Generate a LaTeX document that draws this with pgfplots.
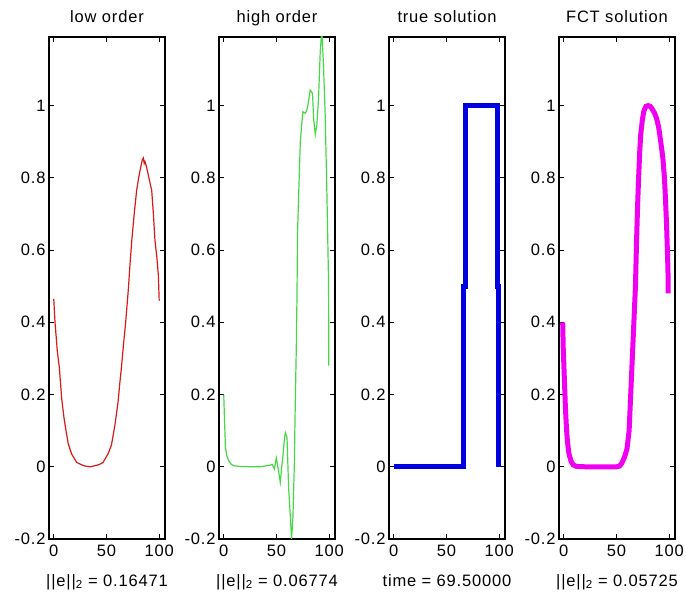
\documentclass[border=0pt]{standalone}
\usepackage{fontspec}
\setmainfont{Liberation Sans}[LetterSpace=5]
\usepackage{pgfplots}
\pgfplotsset{compat=1.18}

\definecolor{lowred}{RGB}{215,25,25}
\definecolor{highgreen}{RGB}{70,215,70}
\definecolor{trueblue}{RGB}{0,0,225}
\definecolor{fctmag}{RGB}{240,0,240}

\pgfplotsset{
  panel/.style={
    scale only axis, width=116pt, height=502pt,
    anchor=south west,
    xmin=-4.5, xmax=105.5, ymin=-0.2, ymax=1.19,
    xtick={0,50,100}, ytick={-0.2,0,0.2,0.4,0.6,0.8,1},
    tick align=inside, major tick length=5pt,
    axis line style={line width=1.2pt},
    every tick/.style={black, line width=1pt},
    tick label style={font=\fontsize{16.5}{19}\selectfont},
    xticklabel style={yshift=-2pt},
    /pgf/number format/assume math mode=true,
    title style={font=\fontsize{16.5}{19}\selectfont, at={(0.5,1)}, anchor=base, yshift=8pt},
    xlabel style={font=\fontsize{16.5}{19}\selectfont, at={(0.5,0)}, anchor=base, yshift=-47pt},
  }
}

\begin{document}
\begin{tikzpicture}
% low order
\begin{axis}[panel, at={(0pt,0pt)}, title={low order},
  xlabel={||e||\textsubscript{2} = 0.16471}]
\addplot[color=lowred, line width=1.2pt] coordinates {
(0,0.465)(1.2,0.40)(3.4,0.32)(5.3,0.275)(7.5,0.19)(9.7,0.136)(11.6,0.1)
(13.8,0.063)(17,0.035)(21.8,0.012)(26,0.006)(29.6,0.002)(35,0)(39,0.003)
(43,0.006)(46.7,0.012)(51.4,0.035)(54.7,0.06)(58,0.115)(61,0.18)(62.6,0.23)
(64.2,0.275)(66.2,0.34)(68.2,0.40)(70.7,0.49)(72.3,0.56)(74,0.626)(76.3,0.70)
(78.6,0.765)(80.5,0.80)(82.5,0.83)(84,0.85)(85,0.855)(85.8,0.84)(86.5,0.845)
(88,0.83)(89.5,0.81)(91,0.79)(92.9,0.765)(94.5,0.70)(96,0.626)(97.8,0.58)
(99.2,0.53)(100,0.46)
};
\end{axis}
% high order
\begin{axis}[panel, at={(170pt,0pt)}, title={high order},
  xlabel={||e||\textsubscript{2} = 0.06774}]
\addplot[color=highgreen, line width=1.2pt] coordinates {
(0,0.20)(0.5,0.15)(1.6,0.053)(3,0.03)(4.7,0.017)(7,0.007)(9.5,0.003)(15,0.001)
(25,0)(35,0)(41,0.003)(44,0.004)(45.7,0.007)(47,0)(48,-0.006)(49.8,0.024)
(51,0.005)(52,-0.011)(53.6,-0.043)(55,0.0)(56,0.026)(57.3,0.07)(58.4,0.095)
(60,0.081)(61.5,-0.057)(63,-0.13)(64.3,-0.2)(65.6,-0.14)(66.9,0)(67.8,0.17)
(68.8,0.33)(69.4,0.46)(70,0.65)(71,0.75)(72.6,0.90)(75,0.983)(77.3,0.979)
(78.9,0.988)(80.4,1.011)(82,1.043)(84.2,1.034)(85.2,0.965)(86.8,0.92)
(88.3,0.947)(89.9,1.02)(91.5,1.15)(93,1.21)(94.6,1.11)(96.2,0.974)(97.8,0.76)
(99.4,0.51)(99.6,0.28)
};
\end{axis}
% true solution
\begin{axis}[panel, at={(340pt,0pt)}, title={true solution},
  xlabel={time = 69.50000}]
\addplot[color=trueblue, line width=5pt] coordinates {
(0,0)(66,0)(66,0.5)(68.5,0.5)(68.5,1)(98,1)(98,0.5)(99,0.5)(99,0)
};
\end{axis}
% FCT solution
\begin{axis}[panel, at={(510pt,0pt)}, title={FCT solution},
  xlabel={||e||\textsubscript{2} = 0.05725}]
\addplot[color=fctmag, line width=5pt] coordinates {
(-1,0.40)(-0.5,0.33)(0.5,0.25)(1.5,0.17)(2.5,0.11)(3.5,0.07)(5,0.035)(7,0.015)
(9,0.005)(12,0.001)(20,0)(50,0)(53,0.002)(55,0.01)(57,0.022)(58.5,0.035)
(60,0.05)(62,0.1)(63.5,0.2)(65,0.3)(66.5,0.4)(68,0.5)(69,0.62)(70,0.72)
(71,0.8)(72,0.87)(73,0.92)(74.5,0.96)(76,0.985)(78,0.998)(80,1.0)(82,0.998)
(84,0.99)(86,0.98)(88,0.965)(90,0.94)(92,0.9)(94,0.855)(95.5,0.8)(96.5,0.74)
(97.5,0.67)(98.5,0.58)(99,0.52)(99,0.48)
};
\end{axis}
\pgfresetboundingbox
\useasboundingbox (-49pt,-61pt) rectangle (637pt,539pt);
\end{tikzpicture}
\end{document}
